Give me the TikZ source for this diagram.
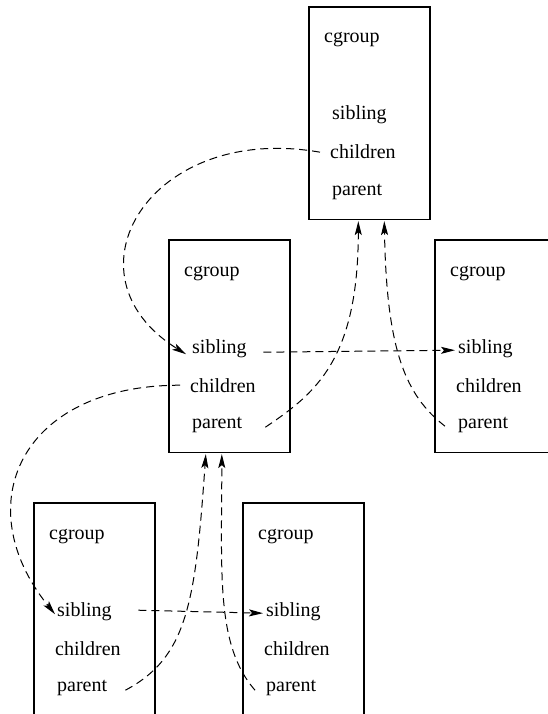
\documentclass[tikz,border=0pt]{standalone}
\usepackage{fontspec}
\setmainfont{Liberation Serif}
\usetikzlibrary{arrows.meta}
\begin{document}
\begin{tikzpicture}[x=1pt,y=1pt,
  cgbox/.style={draw, line width=1.6pt, minimum width=121pt, minimum height=212.5pt,
    anchor=north west, inner sep=0pt},
  openbox/.style={cgbox, minimum height=240pt},
  field/.style={anchor=base west, inner sep=0pt, font=\fontsize{20}{24}\selectfont},
  link/.style={dash pattern=on 8pt off 5pt, line width=1pt,
    -{Stealth[length=14pt,width=7pt,inset=3pt]}}
]
\useasboundingbox (0,0) rectangle (548,-714);
\clip (0,0) rectangle (548,-714);

% cgroup records
\node[cgbox]   (top) at (308,-6)   {};
\node[cgbox]   (mid) at (168,-239) {};
\node[cgbox]   (rgt) at (434,-239) {};
\node[openbox] (bl)  at (33,-502)  {};
\node[openbox] (br)  at (242,-502) {};

% fields of each record
\foreach \b in {top,mid,rgt,bl,br}{
  \node[field] (\b-cg)  at ([shift={(16pt,-37pt)}]\b.north west)  {cgroup};
  \node[field] (\b-sib) at ([shift={(24pt,-114pt)}]\b.north west) {sibling};
  \node[field] (\b-chi) at ([shift={(22pt,-153pt)}]\b.north west) {children};
  \node[field] (\b-par) at ([shift={(24pt,-189pt)}]\b.north west) {parent};
}

% children pointers
\draw[link] ([shift={(-10pt,4.5pt)}]top-chi.mid west)
  to[out=170, in=148, out distance=173pt, in distance=150pt]
  ([shift={(-6pt,-3.5pt)}]mid-sib.mid west);
\draw[link] ([shift={(-10pt,4.5pt)}]mid-chi.mid west)
  to[out=180, in=129, out distance=160pt, in distance=140pt]
  ([shift={(-2pt,-0.5pt)}]bl-sib.mid west);

% sibling pointers
\draw[link] ([shift={(16.5pt,-1.5pt)}]mid-sib.mid east) --
  ([shift={(-3pt,0.5pt)}]rgt-sib.mid west);
\draw[link] ([shift={(26.5pt,3.5pt)}]bl-sib.mid east) --
  ([shift={(-3pt,0.5pt)}]br-sib.mid west);

% parent pointers
\draw[link] ([shift={(23pt,-1.5pt)}]mid-par.mid east)
  to[out=34, in=-90, out distance=60pt, in distance=139pt]
  ([shift={(-11pt,-1pt)}]top.south);
\draw[link] ([shift={(-13pt,-0.5pt)}]rgt-par.mid west)
  to[out=142, in=-89, out distance=50pt, in distance=130pt]
  ([shift={(15pt,-1pt)}]top.south);
\draw[link] ([shift={(18pt,-1.5pt)}]bl-par.mid east)
  to[out=28, in=-94, out distance=70pt, in distance=150pt]
  ([shift={(-23.5pt,-1pt)}]mid.south);
\draw[link] ([shift={(-11pt,-1.5pt)}]br-par.mid west)
  to[out=131, in=-90, out distance=60pt, in distance=120pt]
  ([shift={(-7.5pt,-1pt)}]mid.south);
\end{tikzpicture}
\end{document}
